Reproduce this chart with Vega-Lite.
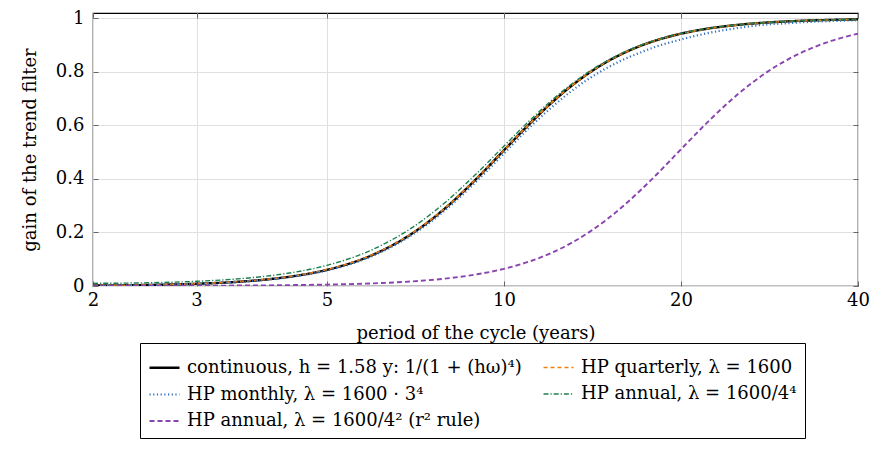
{
  "$schema": "https://vega.github.io/schema/vega-lite/v6.json",
  "width": 765,
  "height": 273,
  "autosize": "none",
  "padding": {"left": 93, "top": 13, "right": 30, "bottom": 164},
  "config": {
    "font": "DejaVu Serif",
    "view": {"stroke": "black", "strokeWidth": 1.2},
    "axis": {
      "labelFont": "DejaVu Serif",
      "titleFont": "DejaVu Serif",
      "labelFontSize": 18,
      "titleFontSize": 18,
      "titleFontWeight": "normal",
      "labelColor": "black",
      "titleColor": "black",
      "gridColor": "#e0e0e0",
      "gridWidth": 1,
      "domain": false,
      "ticks": true,
      "tickSize": -5,
      "tickColor": "#666666",
      "tickWidth": 1
    },
    "legend": {
      "labelFont": "DejaVu Serif",
      "labelFontSize": 18,
      "labelColor": "black"
    }
  },
  "datasets": {
    "curves": [
      {"P": 2, "g": 0.0016, "s": "continuous"}, {"P": 2.5, "g": 0.0040, "s": "continuous"}, {"P": 3, "g": 0.0083, "s": "continuous"}, {"P": 3.5, "g": 0.0152, "s": "continuous"}, {"P": 4, "g": 0.0257, "s": "continuous"}, {"P": 4.5, "g": 0.0405, "s": "continuous"}, {"P": 5, "g": 0.0605, "s": "continuous"}, {"P": 6, "g": 0.1177, "s": "continuous"}, {"P": 7, "g": 0.1982, "s": "continuous"}, {"P": 8, "g": 0.2966, "s": "continuous"}, {"P": 9, "g": 0.4032, "s": "continuous"}, {"P": 10, "g": 0.5073, "s": "continuous"}, {"P": 11, "g": 0.6012, "s": "continuous"}, {"P": 12, "g": 0.6810, "s": "continuous"}, {"P": 13, "g": 0.7462, "s": "continuous"}, {"P": 14, "g": 0.7982, "s": "continuous"}, {"P": 15, "g": 0.8390, "s": "continuous"}, {"P": 16, "g": 0.8709, "s": "continuous"}, {"P": 17, "g": 0.8958, "s": "continuous"}, {"P": 18, "g": 0.9153, "s": "continuous"}, {"P": 20, "g": 0.9428, "s": "continuous"}, {"P": 22, "g": 0.9602, "s": "continuous"}, {"P": 25, "g": 0.9757, "s": "continuous"}, {"P": 28, "g": 0.9844, "s": "continuous"}, {"P": 30, "g": 0.9882, "s": "continuous"}, {"P": 32, "g": 0.9908, "s": "continuous"}, {"P": 36, "g": 0.9942, "s": "continuous"}, {"P": 40, "g": 0.9962, "s": "continuous"},
      {"P": 2, "g": 0.0018, "s": "quarterly"}, {"P": 2.5, "g": 0.0043, "s": "quarterly"}, {"P": 3, "g": 0.0086, "s": "quarterly"}, {"P": 3.5, "g": 0.0157, "s": "quarterly"}, {"P": 4, "g": 0.0263, "s": "quarterly"}, {"P": 4.5, "g": 0.0412, "s": "quarterly"}, {"P": 5, "g": 0.0612, "s": "quarterly"}, {"P": 6, "g": 0.1186, "s": "quarterly"}, {"P": 7, "g": 0.1991, "s": "quarterly"}, {"P": 8, "g": 0.2974, "s": "quarterly"}, {"P": 9, "g": 0.4037, "s": "quarterly"}, {"P": 10, "g": 0.5076, "s": "quarterly"}, {"P": 11, "g": 0.6014, "s": "quarterly"}, {"P": 12, "g": 0.6812, "s": "quarterly"}, {"P": 13, "g": 0.7463, "s": "quarterly"}, {"P": 14, "g": 0.7983, "s": "quarterly"}, {"P": 15, "g": 0.8391, "s": "quarterly"}, {"P": 16, "g": 0.8710, "s": "quarterly"}, {"P": 17, "g": 0.8959, "s": "quarterly"}, {"P": 18, "g": 0.9154, "s": "quarterly"}, {"P": 20, "g": 0.9427, "s": "quarterly"}, {"P": 22, "g": 0.9602, "s": "quarterly"}, {"P": 25, "g": 0.9757, "s": "quarterly"}, {"P": 28, "g": 0.9844, "s": "quarterly"}, {"P": 30, "g": 0.9882, "s": "quarterly"}, {"P": 32, "g": 0.9908, "s": "quarterly"}, {"P": 36, "g": 0.9942, "s": "quarterly"}, {"P": 40, "g": 0.9962, "s": "quarterly"},
      {"P": 2, "g": 0.0015, "s": "monthly"}, {"P": 2.5, "g": 0.0038, "s": "monthly"}, {"P": 3, "g": 0.0080, "s": "monthly"}, {"P": 3.5, "g": 0.0148, "s": "monthly"}, {"P": 4, "g": 0.0250, "s": "monthly"}, {"P": 4.5, "g": 0.0390, "s": "monthly"}, {"P": 5, "g": 0.0580, "s": "monthly"}, {"P": 6, "g": 0.1140, "s": "monthly"}, {"P": 7, "g": 0.1930, "s": "monthly"}, {"P": 8, "g": 0.2890, "s": "monthly"}, {"P": 9, "g": 0.3930, "s": "monthly"}, {"P": 10, "g": 0.4950, "s": "monthly"}, {"P": 11, "g": 0.5880, "s": "monthly"}, {"P": 12, "g": 0.6640, "s": "monthly"}, {"P": 13, "g": 0.7270, "s": "monthly"}, {"P": 14, "g": 0.7770, "s": "monthly"}, {"P": 15, "g": 0.8160, "s": "monthly"}, {"P": 16, "g": 0.8470, "s": "monthly"}, {"P": 17, "g": 0.8710, "s": "monthly"}, {"P": 18, "g": 0.8920, "s": "monthly"}, {"P": 20, "g": 0.9210, "s": "monthly"}, {"P": 22, "g": 0.9430, "s": "monthly"}, {"P": 25, "g": 0.9640, "s": "monthly"}, {"P": 28, "g": 0.9770, "s": "monthly"}, {"P": 30, "g": 0.9810, "s": "monthly"}, {"P": 32, "g": 0.9850, "s": "monthly"}, {"P": 36, "g": 0.9900, "s": "monthly"}, {"P": 40, "g": 0.9930, "s": "monthly"},
      {"P": 2, "g": 0.0099, "s": "annual"}, {"P": 2.5, "g": 0.0121, "s": "annual"}, {"P": 3, "g": 0.0175, "s": "annual"}, {"P": 3.5, "g": 0.0261, "s": "annual"}, {"P": 4, "g": 0.0385, "s": "annual"}, {"P": 4.5, "g": 0.0553, "s": "annual"}, {"P": 5, "g": 0.0773, "s": "annual"}, {"P": 6, "g": 0.1379, "s": "annual"}, {"P": 7, "g": 0.2201, "s": "annual"}, {"P": 8, "g": 0.3180, "s": "annual"}, {"P": 9, "g": 0.4222, "s": "annual"}, {"P": 10, "g": 0.5230, "s": "annual"}, {"P": 11, "g": 0.6135, "s": "annual"}, {"P": 12, "g": 0.6903, "s": "annual"}, {"P": 13, "g": 0.7530, "s": "annual"}, {"P": 14, "g": 0.8031, "s": "annual"}, {"P": 15, "g": 0.8426, "s": "annual"}, {"P": 16, "g": 0.8735, "s": "annual"}, {"P": 17, "g": 0.8977, "s": "annual"}, {"P": 18, "g": 0.9166, "s": "annual"}, {"P": 20, "g": 0.9435, "s": "annual"}, {"P": 22, "g": 0.9606, "s": "annual"}, {"P": 25, "g": 0.9759, "s": "annual"}, {"P": 28, "g": 0.9845, "s": "annual"}, {"P": 30, "g": 0.9882, "s": "annual"}, {"P": 32, "g": 0.9909, "s": "annual"}, {"P": 36, "g": 0.9943, "s": "annual"}, {"P": 40, "g": 0.9962, "s": "annual"},
      {"P": 2, "g": 0.0006, "s": "annual_r2"}, {"P": 2.5, "g": 0.0008, "s": "annual_r2"}, {"P": 3, "g": 0.0011, "s": "annual_r2"}, {"P": 3.5, "g": 0.0017, "s": "annual_r2"}, {"P": 4, "g": 0.0025, "s": "annual_r2"}, {"P": 4.5, "g": 0.0037, "s": "annual_r2"}, {"P": 5, "g": 0.0052, "s": "annual_r2"}, {"P": 6, "g": 0.0099, "s": "annual_r2"}, {"P": 7, "g": 0.0173, "s": "annual_r2"}, {"P": 8, "g": 0.0283, "s": "annual_r2"}, {"P": 9, "g": 0.0437, "s": "annual_r2"}, {"P": 10, "g": 0.0642, "s": "annual_r2"}, {"P": 11, "g": 0.0903, "s": "annual_r2"}, {"P": 12, "g": 0.1222, "s": "annual_r2"}, {"P": 13, "g": 0.1601, "s": "annual_r2"}, {"P": 14, "g": 0.2031, "s": "annual_r2"}, {"P": 15, "g": 0.2507, "s": "annual_r2"}, {"P": 16, "g": 0.3014, "s": "annual_r2"}, {"P": 17, "g": 0.3541, "s": "annual_r2"}, {"P": 18, "g": 0.4073, "s": "annual_r2"}, {"P": 20, "g": 0.5107, "s": "annual_r2"}, {"P": 22, "g": 0.6038, "s": "annual_r2"}, {"P": 25, "g": 0.7170, "s": "annual_r2"}, {"P": 28, "g": 0.7991, "s": "annual_r2"}, {"P": 30, "g": 0.8396, "s": "annual_r2"}, {"P": 32, "g": 0.8713, "s": "annual_r2"}, {"P": 36, "g": 0.9155, "s": "annual_r2"}, {"P": 40, "g": 0.9428, "s": "annual_r2"}
    ]
  },
  "data": {"name": "curves"},
  "layer": [
    {
      "mark": {"type": "line", "clip": true, "interpolate": "monotone"},
      "encoding": {
        "x": {
          "field": "P",
          "type": "quantitative",
          "scale": {"type": "log", "domain": [2, 40], "nice": false},
          "axis": {"values": [2, 3, 5, 10, 20, 40], "title": "period of the cycle (years)", "labelPadding": 10, "titlePadding": 15, "labelFlush": false}
        },
        "y": {
          "field": "g",
          "type": "quantitative",
          "scale": {"domain": [0, 1.02], "nice": false},
          "axis": {"values": [0, 0.2, 0.4, 0.6, 0.8, 1], "format": "~g", "title": "gain of the trend filter", "labelPadding": 14, "titlePadding": 16, "labelFlush": false}
        },
        "color": {
          "field": "s",
          "type": "nominal",
          "scale": {
            "domain": ["continuous", "monthly", "annual_r2", "quarterly", "annual"],
            "range": ["#000000", "#2f6fc0", "#8a44b0", "#f07f12", "#1e7f4e"]
          },
          "legend": {
            "title": null,
            "orient": "none",
            "legendX": 47,
            "legendY": 330,
            "columns": 2,
            "columnPadding": 12,
            "rowPadding": 1,
            "labelLimit": 0,
            "labelOffset": 6,
            "symbolType": "stroke",
            "symbolSize": 900,
            "symbolStrokeWidth": 1.5,
            "strokeColor": "black",
            "padding": 8,
            "labelExpr": "{'continuous': 'continuous, h = 1.58 y:  1/(1 + (hω)⁴)', 'quarterly': 'HP quarterly, λ = 1600', 'monthly': 'HP monthly, λ = 1600 · 3⁴', 'annual': 'HP annual, λ = 1600/4⁴', 'annual_r2': 'HP annual, λ = 1600/4²  (r² rule)'}[datum.value]"
          }
        },
        "strokeDash": {
          "field": "s",
          "type": "nominal",
          "scale": {
            "domain": ["continuous", "monthly", "annual_r2", "quarterly", "annual"],
            "range": [[1, 0], [1.2, 2.5], [5, 3], [4, 3], [5, 2, 1.2, 2]]
          },
          "legend": null
        },
        "strokeWidth": {
          "field": "s",
          "type": "nominal",
          "scale": {
            "domain": ["continuous", "monthly", "annual_r2", "quarterly", "annual"],
            "range": [2.4, 1.4, 1.4, 1.3, 1.3]
          },
          "legend": null
        }
      }
    },
    {
      "mark": {"type": "line", "strokeOpacity": 0},
      "encoding": {
        "x": {
          "field": "P",
          "type": "quantitative",
          "axis": {"orient": "top", "values": [2, 3, 5, 10, 20, 40], "labels": false, "title": null, "grid": false}
        },
        "y": {
          "field": "g",
          "type": "quantitative",
          "axis": {"orient": "right", "values": [0, 0.2, 0.4, 0.6, 0.8, 1], "labels": false, "title": null, "grid": false}
        },
        "detail": {"field": "s", "type": "nominal"}
      }
    }
  ],
  "resolve": {"axis": {"x": "independent", "y": "independent"}}
}
